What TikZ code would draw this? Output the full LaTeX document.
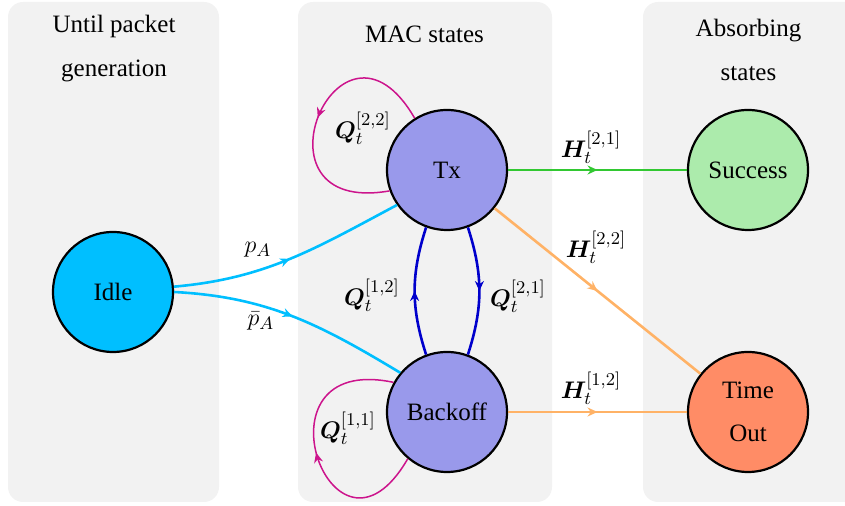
\documentclass[tikz,border=0pt]{standalone}
\usepackage{bm}
\usepackage{fontspec}
\setmainfont{Liberation Serif}
\usetikzlibrary{arrows.meta,decorations.markings}
\definecolor{panelgray}{RGB}{242,242,242}
\definecolor{idlecol}{RGB}{0,191,255}
\definecolor{maccol}{RGB}{153,153,235}
\definecolor{succcol}{RGB}{172,235,172}
\definecolor{outcol}{RGB}{255,140,102}
\definecolor{cyanline}{RGB}{0,191,255}
\definecolor{greenline}{RGB}{50,200,50}
\definecolor{orangeline}{RGB}{255,178,102}
\definecolor{blueline}{RGB}{0,0,204}
\definecolor{loopcol}{RGB}{204,20,140}
\tikzset{
  panel/.style={fill=panelgray, rounded corners=7.5pt},
  title/.style={font=\fontsize{12.5}{22}\selectfont, align=center, inner sep=0pt},
  state/.style={circle, draw=black, line width=1.1pt, minimum size=60pt, inner sep=0pt,
    align=center, font=\fontsize{12.5}{21.7}\selectfont},
  lbl/.style={font=\fontsize{12.5}{15}\selectfont, inner sep=0pt},
  midarrow/.style={decoration={markings, mark=at position 0.5 with {\arrow{Stealth[length=5pt,width=4.5pt]}}}, postaction={decorate}},
  flow/.style={line width=1.3pt, midarrow},
  selfloop/.style={line width=0.75pt, midarrow}
}
\begin{document}
\begin{tikzpicture}[x=0.5pt,y=0.5pt]
\clip (0,0) rectangle (845,506);
% panels
\fill[panel] (8,4) rectangle (219,504);
\fill[panel] (298,4) rectangle (552,504);
\fill[panel] (643,4) rectangle (880,504);
% titles
\node[title] (t1) at (114,457) {Until packet\\generation};
\node[title, anchor=base] (t2) at (424.5,463.3) {MAC states};
\node[title] (t3) at (748.5,456) {Absorbing\\states};
% states
\node[state, fill=idlecol] (idle) at (113,214) {Idle};
\node[state, fill=maccol] (tx) at (447,336) {Tx};
\node[state, fill=maccol] (backoff) at (447,94) {Backoff};
\node[state, fill=succcol] (success) at (748,336) {Success};
\node[state, fill=outcol] (timeout) at (748,94) {Time\\Out};
% idle edges
\draw[flow, cyanline] (idle.5) to[out=5, in=208] (tx.215);
\draw[flow, cyanline] (idle.0) to[out=-3, in=149] (backoff.140);
% MAC transitions
\draw[flow, blueline] (tx.-70) to[out=-72, in=72] (backoff.70);
\draw[flow, blueline] (backoff.110) to[out=108, in=252] (tx.250);
% self loops
\draw[selfloop, loopcol] (tx.122) .. controls +(120:150) and +(190:150) .. (tx.200);
\draw[selfloop, loopcol] (backoff.230) .. controls +(240:150) and +(168:150) .. (backoff.151);
% absorbing edges
\draw[flow, greenline] (tx) -- (success);
\draw[flow, orangeline] (tx) -- (timeout);
\draw[flow, orangeline] (backoff) -- (timeout);
% labels
\node[lbl] (lpa) at (258,256) {$p_A$};
\node[lbl] (lpab) at (261,185) {$\bar{p}_A$};
\node[lbl] (lq12) at (372,211) {$\bm{Q}_t^{[1,2]}$};
\node[lbl] (lq21) at (518,210) {$\bm{Q}_t^{[2,1]}$};
\node[lbl] (lq22) at (363,378) {$\bm{Q}_t^{[2,2]}$};
\node[lbl] (lq11) at (348,78) {$\bm{Q}_t^{[1,1]}$};
\node[lbl] (lh21) at (591,359) {$\bm{H}_t^{[2,1]}$};
\node[lbl] (lh22) at (596,259) {$\bm{H}_t^{[2,2]}$};
\node[lbl] (lh12) at (591,118) {$\bm{H}_t^{[1,2]}$};
\end{tikzpicture}
\end{document}
